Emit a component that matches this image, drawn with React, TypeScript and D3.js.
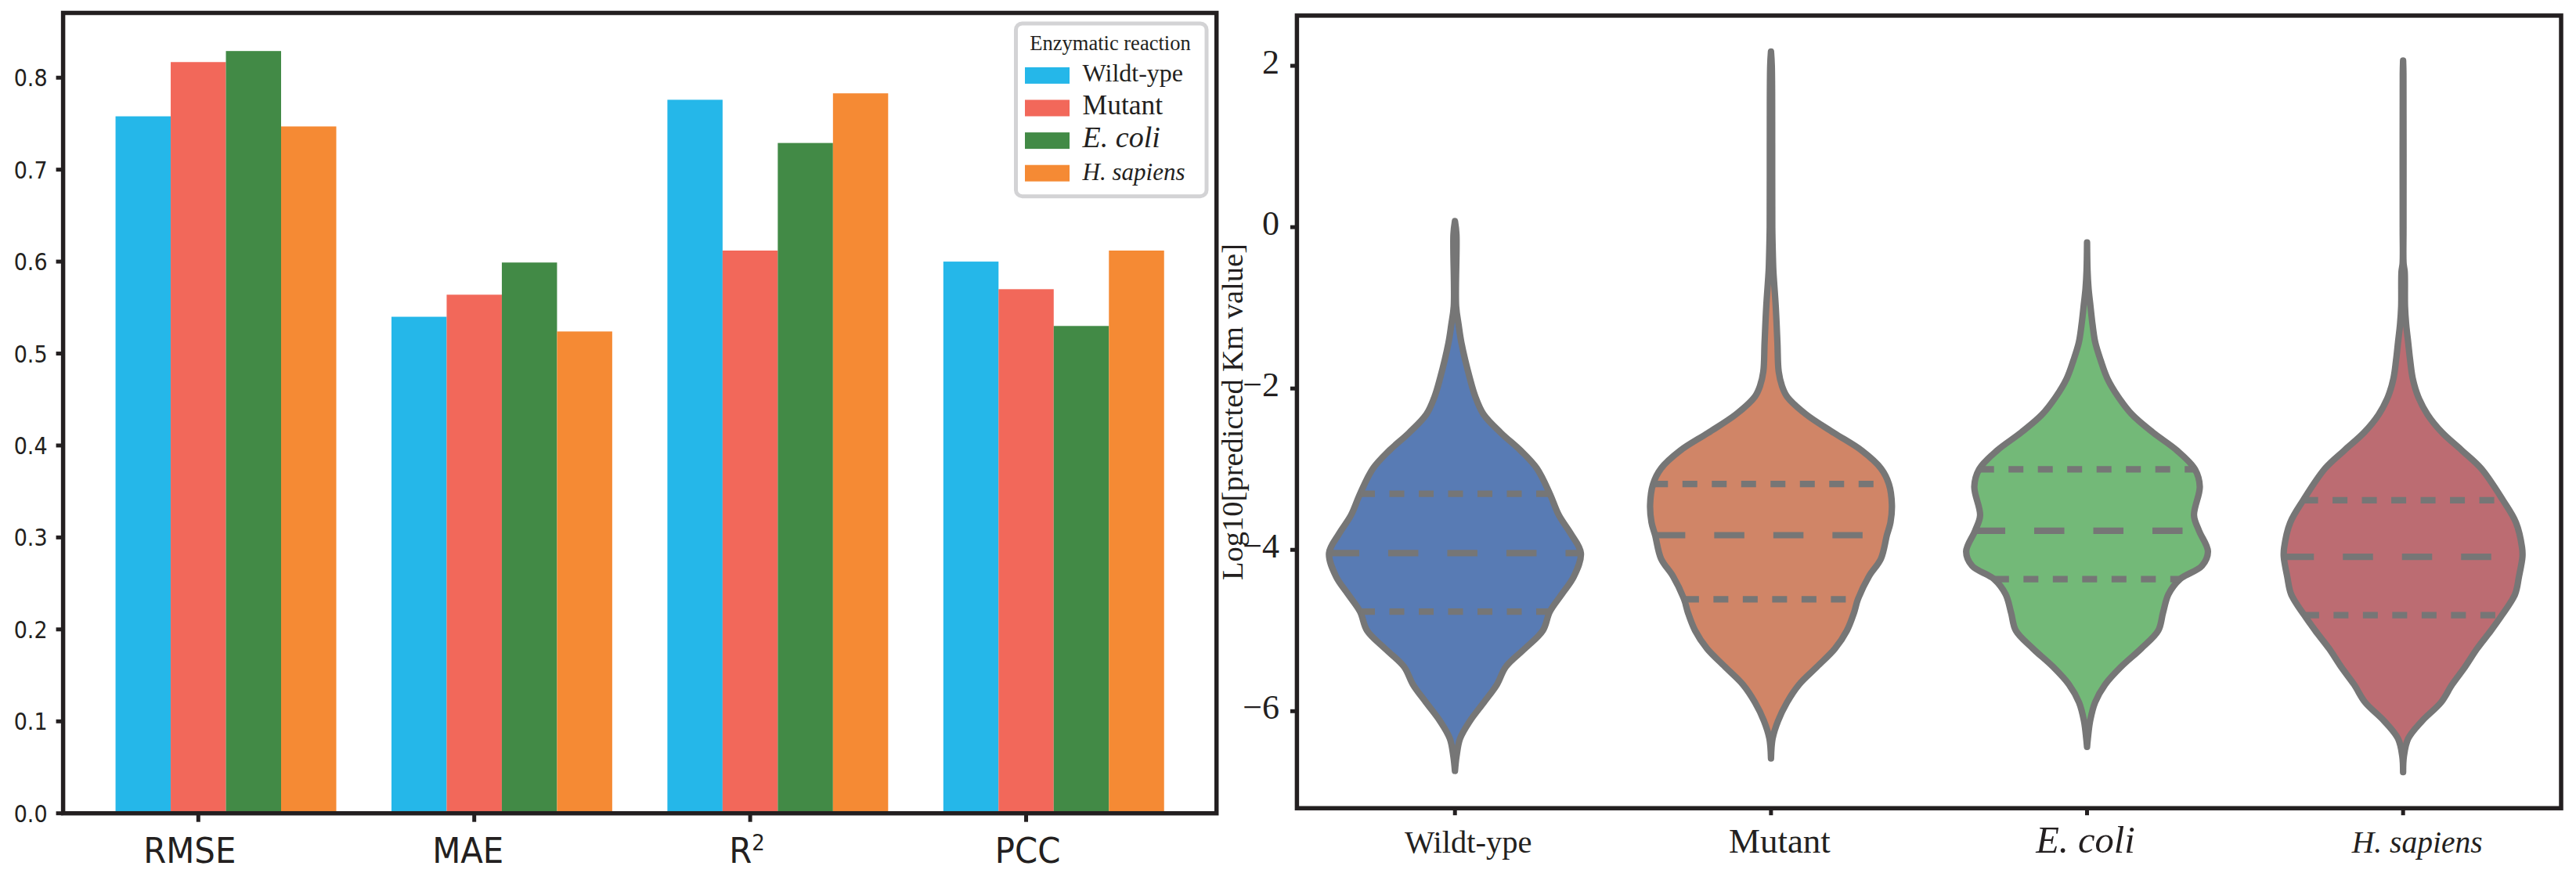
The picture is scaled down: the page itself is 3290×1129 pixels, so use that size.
import React from 'react';
import * as d3 from 'd3';

// ---------------- DATA ----------------
const metrics = ['RMSE', 'MAE', 'R2', 'PCC'];
const seriesNames = ['Wildt-ype', 'Mutant', 'E. coli', 'H. sapiens'];
const wildtypeBars = [0.758, 0.54, 0.776, 0.6];
const mutantBars = [0.817, 0.564, 0.612, 0.57];
const ecoliBars = [0.829, 0.599, 0.729, 0.53];
const hsapiensBars = [0.747, 0.524, 0.783, 0.612];
const barTicks = [0, 0.1, 0.2, 0.3, 0.4, 0.5, 0.6, 0.7, 0.8];

const categories = ['Wildt-ype', 'Mutant', 'E. coli', 'H. sapiens'];
const violinTicks = [2, 0, -2, -4, -6];

// density profiles: [log10 Km value, half-width in category units]
const wildtypeProfile: [number, number][] = [
  [0.075, 0], [-0.09, 0.0047], [-0.98, 0.0037], [-1.21, 0.0116], [-1.43, 0.0203],
  [-1.88, 0.0476], [-2.1, 0.0644], [-2.32, 0.0904], [-2.55, 0.1454], [-2.77, 0.2081],
  [-2.99, 0.2591], [-3.305, 0.3003], [-3.57, 0.3288], [-3.8, 0.3667], [-4.04, 0.3984],
  [-4.33, 0.3763], [-4.55, 0.3382], [-4.765, 0.3003], [-5.0, 0.2782], [-5.225, 0.2212],
  [-5.45, 0.161], [-5.67, 0.1328], [-5.89, 0.0917], [-6.12, 0.0476], [-6.34, 0.0161],
  [-6.56, 0.005], [-6.74, 0],
];
const mutantProfile: [number, number][] = [
  [2.176, 0], [2.0, 0.0025], [1.0, 0.0037], [0, 0.004], [-0.4, 0.0062], [-0.54, 0.0074],
  [-0.98, 0.0149], [-1.43, 0.0203], [-1.79, 0.0243], [-1.97, 0.0349], [-2.1, 0.0508],
  [-2.32, 0.1107], [-2.55, 0.1992], [-2.77, 0.2874], [-2.99, 0.3478], [-3.184, 0.3731],
  [-3.44, 0.3825], [-3.66, 0.378], [-3.818, 0.3667], [-4.11, 0.3478], [-4.33, 0.3097],
  [-4.613, 0.275], [-4.78, 0.2626], [-5.0, 0.2403], [-5.225, 0.2024], [-5.45, 0.1454],
  [-5.67, 0.0887], [-5.89, 0.0508], [-6.12, 0.0223], [-6.34, 0.005], [-6.586, 0],
];
const ecoliProfile: [number, number][] = [
  [-0.19, 0], [-0.537, 0.0015], [-0.76, 0.0047], [-0.983, 0.0109], [-1.206, 0.0173],
  [-1.43, 0.026], [-1.65, 0.0431], [-1.876, 0.0644], [-2.1, 0.0981], [-2.323, 0.1424],
  [-2.546, 0.2086], [-2.769, 0.2847], [-3.001, 0.3414], [-3.216, 0.3567], [-3.573, 0.3384],
  [-3.764, 0.3543], [-4.02, 0.3825], [-4.198, 0.3637], [-4.363, 0.2941], [-4.55, 0.2577],
  [-4.78, 0.2403], [-5.0, 0.2254], [-5.225, 0.1709], [-5.45, 0.1075], [-5.67, 0.057],
  [-5.89, 0.0255], [-6.12, 0.0097], [-6.34, 0.0025], [-6.443, 0],
];
const hsapiensProfile: [number, number][] = [
  [2.064, 0], [1.9, 0.001], [0, 0.0012], [-0.45, 0.0015], [-0.55, 0.005], [-0.983, 0.006],
  [-1.206, 0.0097], [-1.43, 0.0161], [-1.65, 0.0223], [-1.876, 0.0305], [-2.1, 0.0476],
  [-2.323, 0.0773], [-2.546, 0.1234], [-2.769, 0.1865], [-2.99, 0.2467], [-3.385, 0.3161],
  [-3.662, 0.3572], [-3.97, 0.3763], [-4.086, 0.3776], [-4.33, 0.3667], [-4.55, 0.3543],
  [-4.809, 0.3129], [-5.0, 0.2782], [-5.225, 0.2341], [-5.45, 0.1962], [-5.67, 0.1551],
  [-5.89, 0.1202], [-6.12, 0.0602], [-6.34, 0.0161], [-6.56, 0.0025], [-6.756, 0],
];
// [Q1, median, Q3]
const wildtypeQuartiles = [-4.765, -4.041, -3.305];
const mutantQuartiles = [-4.613, -3.818, -3.184];
const ecoliQuartiles = [-4.363, -3.764, -3.001];
const hsapiensQuartiles = [-4.809, -4.086, -3.385];

// ---------------- STYLE / LAYOUT ----------------
const W = 3290;
const H = 1129;
const barColors = ['#25B7E9', '#F2685A', '#428A46', '#F58A34'];
const violinColors = ['#587BB4', '#D08567', '#73B978', '#BC6C72'];
const GRAY = '#767676';
const SPINE = '#231F20';
const SERIF = '"Liberation Serif", "Times New Roman", serif';
const SANS = '"DejaVu Sans", sans-serif';
const LP = { left: 80.6, right: 1553.7, top: 16.5, bottom: 1038.7 };
const RP = { left: 1656.4, right: 3271, top: 19.9, bottom: 1032.2 };
const barLabelNudge = [-11, -8, -4, 2];
const catLabelNudge = [17, 11, -2, 18];
const catLabelSize = [40.5, 45, 48.5, 39.5];
const legendLabelSize = [32, 35.5, 38, 31];

const barSeries = [wildtypeBars, mutantBars, ecoliBars, hsapiensBars];
const profiles = [wildtypeProfile, mutantProfile, ecoliProfile, hsapiensProfile];
const quartiles = [wildtypeQuartiles, mutantQuartiles, ecoliQuartiles, hsapiensQuartiles];

function halfWidthAt(profile: [number, number][], v: number): number {
  for (let i = 0; i < profile.length - 1; i++) {
    const [v0, w0] = profile[i];
    const [v1, w1] = profile[i + 1];
    if ((v <= v0 && v >= v1) || (v >= v0 && v <= v1)) {
      const t = (v - v0) / (v1 - v0);
      return w0 + t * (w1 - w0);
    }
  }
  return 0;
}

function BarPanel() {
  const bw = 0.2;
  const offsets = [-1, 0, 1, 2].map((k) => k * bw);
  const lo = d3.min(offsets)! - bw / 2;
  const hi = metrics.length - 1 + d3.max(offsets)! + bw / 2;
  const pad = (hi - lo) * 0.05;
  const x = d3.scaleLinear().domain([lo - pad, hi + pad]).range([LP.left, LP.right]);
  const ymax = d3.max(barSeries.flat())! * 1.05;
  const y = d3.scaleLinear().domain([0, ymax]).range([LP.bottom, LP.top]);
  const fmt = d3.format('.1f');
  return (
    <g>
      {barSeries.map((vals, k) =>
        vals.map((v, i) => (
          <rect
            key={`${k}-${i}`}
            x={x(i + offsets[k] - bw / 2)}
            width={x(bw) - x(0)}
            y={y(v)}
            height={y(0) - y(v)}
            fill={barColors[k]}
          />
        ))
      )}
      <rect x={LP.left} y={LP.top} width={LP.right - LP.left} height={LP.bottom - LP.top}
        fill="none" stroke={SPINE} strokeWidth={5.5} />
      {barTicks.map((t) => (
        <g key={t}>
          <line x1={LP.left - 9} x2={LP.left} y1={y(t)} y2={y(t)} stroke={SPINE} strokeWidth={5} />
          <text transform={`translate(${LP.left - 20},${y(t) + 11}) scale(0.9,1)`} textAnchor="end"
            fontFamily={SANS} fontSize={30} fill={SPINE}>{fmt(t)}</text>
        </g>
      ))}
      {metrics.map((m, i) => (
        <g key={m}>
          <line x1={x(i)} x2={x(i)} y1={LP.bottom} y2={LP.bottom + 11} stroke={SPINE} strokeWidth={5} />
          <text transform={`translate(${x(i) + barLabelNudge[i]},1102) scale(0.93,1)`} textAnchor="middle"
            fontFamily={SANS} fontSize={45} fill={SPINE}>
            {m === 'R2' ? (
              <>
                <tspan>R</tspan>
                <tspan fontSize={28} dy={-16}>2</tspan>
              </>
            ) : m}
          </text>
        </g>
      ))}
      {/* legend */}
      <rect x={1297.5} y={29.9} width={243.5} height={220.8} rx={8} fill="white"
        stroke="#D3D3D5" strokeWidth={5} />
      <text x={1418} y={64.3} textAnchor="middle" fontFamily={SERIF} fontSize={26.5} fill={SPINE}>
        Enzymatic reaction
      </text>
      {seriesNames.map((s, k) => {
        const cy = 96.4 + k * 41.6;
        return (
          <g key={s}>
            <rect x={1309} y={cy - 10.5} width={57} height={21} fill={barColors[k]} />
            <text x={1382.6} y={cy + 8 + k * 0.4} fontFamily={SERIF} fontSize={legendLabelSize[k]}
              fontStyle={k >= 2 ? 'italic' : 'normal'} fill={SPINE}>{s}</text>
          </g>
        );
      })}
    </g>
  );
}

function ViolinPanel() {
  const x = d3.scaleLinear().domain([-0.5, categories.length - 0.5]).range([RP.left, RP.right]);
  const all = profiles.flat().map((d) => d[0]);
  const lo = d3.min(all)!;
  const hi = d3.max(all)!;
  const pad = (hi - lo) * 0.05;
  const y = d3.scaleLinear().domain([lo - pad, hi + pad]).range([RP.bottom, RP.top]);
  return (
    <g>
      {profiles.map((prof, i) => {
        const area = d3
          .area<[number, number]>()
          .y((d) => y(d[0]))
          .x0((d) => x(i - d[1]))
          .x1((d) => x(i + d[1]))
          .curve(d3.curveCatmullRom.alpha(0.5));
        return (
          <g key={i}>
            <path d={area(prof) || ''} fill={violinColors[i]} stroke={GRAY} strokeWidth={8.2}
              strokeLinejoin="round" strokeLinecap="round" />
            {quartiles[i].map((q, j) => {
              const hw = halfWidthAt(prof, q);
              return (
                <line key={j} x1={x(i - hw)} x2={x(i + hw)} y1={y(q)} y2={y(q)} stroke={GRAY}
                  strokeWidth={8.2} strokeDasharray={j === 1 ? '38.5 37' : '19 18.5'} />
              );
            })}
          </g>
        );
      })}
      <rect x={RP.left} y={RP.top} width={RP.right - RP.left} height={RP.bottom - RP.top}
        fill="none" stroke={SPINE} strokeWidth={5.5} />
      {violinTicks.map((t) => (
        <g key={t}>
          <line x1={RP.left - 8.5} x2={RP.left} y1={y(t)} y2={y(t)} stroke={SPINE} strokeWidth={5} />
          <text x={1634} y={y(t) + 10} textAnchor="end" fontFamily={SERIF} fontSize={44} fill={SPINE}>
            {t < 0 ? `\u2212${Math.abs(t)}` : `${t}`}
          </text>
        </g>
      ))}
      {categories.map((c, i) => (
        <g key={c}>
          <line x1={x(i)} x2={x(i)} y1={RP.bottom} y2={RP.bottom + 9} stroke={SPINE} strokeWidth={5} />
          <text x={x(i) + catLabelNudge[i]} y={1088.5} textAnchor="middle" fontFamily={SERIF}
            fontSize={catLabelSize[i]} fontStyle={i >= 2 ? 'italic' : 'normal'} fill={SPINE}>{c}</text>
        </g>
      ))}
      <text transform={`translate(1587,${(RP.top + RP.bottom) / 2}) rotate(-90)`} textAnchor="middle"
        fontFamily={SERIF} fontSize={38.5} fill={SPINE}>Log10[predicted Km value]</text>
    </g>
  );
}

export default function App() {
  return (
    <svg width={W} height={H} viewBox={`0 0 ${W} ${H}`}
      style={{ position: 'absolute', left: 0, top: 0, display: 'block', background: 'white' }}>
      <rect x={0} y={0} width={W} height={H} fill="white" />
      <BarPanel />
      <ViolinPanel />
    </svg>
  );
}
